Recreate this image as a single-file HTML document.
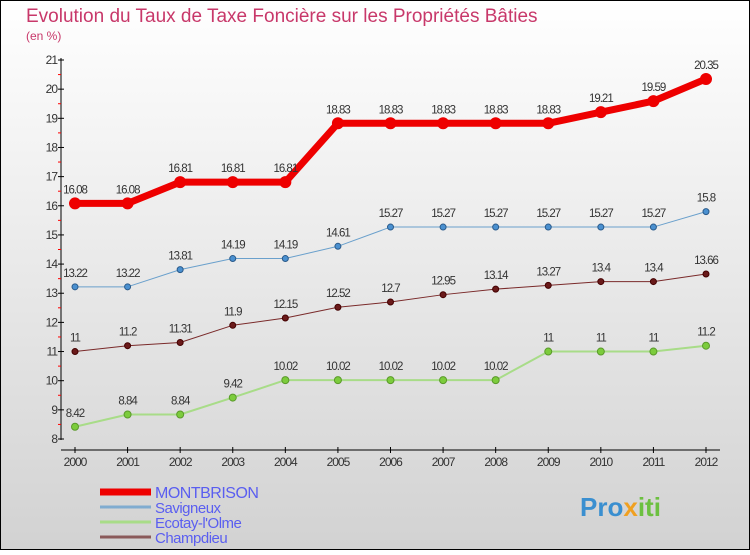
<!DOCTYPE html>
<html><head><meta charset="utf-8"><style>
body{margin:0}
#c{width:750px;height:550px;position:relative;font-family:"Liberation Sans",sans-serif}
</style></head><body>
<div id="c">
<svg id="s" width="750" height="550" xmlns="http://www.w3.org/2000/svg">
<defs><linearGradient id="bg" x1="0" y1="0" x2="0" y2="1"><stop offset="0" stop-color="#ffffff"/><stop offset="1" stop-color="#d2d2d2"/></linearGradient></defs>
<rect x="0.5" y="0.5" width="749" height="549" fill="url(#bg)" stroke="#000"/>
<text x="26" y="22" font-size="19" fill="#c8386a">Evolution du Taux de Taxe Foncière sur les Propriétés Bâties</text>
<text x="26" y="40" font-size="12" fill="#c8386a">(en %)</text>
<g id="axes"></g><g id="series"></g><g id="legend"></g>
<text x="580" y="516" font-size="26" font-weight="bold" fill="#3a8fd0">Pro<tspan fill="#f0a020">x</tspan><tspan fill="#6cc040">iti</tspan></text>
</svg>
</div>
<script>
const years=[2000,2001,2002,2003,2004,2005,2006,2007,2008,2009,2010,2011,2012];
const montbrison=[16.08,16.08,16.81,16.81,16.81,18.83,18.83,18.83,18.83,18.83,19.21,19.59,20.35];
const savigneux=[13.22,13.22,13.81,14.19,14.19,14.61,15.27,15.27,15.27,15.27,15.27,15.27,15.8];
const ecotay=[8.42,8.84,8.84,9.42,10.02,10.02,10.02,10.02,10.02,11,11,11,11.2];
const champdieu=[11,11.2,11.31,11.9,12.15,12.52,12.7,12.95,13.14,13.27,13.4,13.4,13.66];
const yTicks=[8,9,10,11,12,13,14,15,16,17,18,19,20,21];
const seriesNames=["MONTBRISON","Savigneux","Ecotay-l'Olme","Champdieu"];
const NS="http://www.w3.org/2000/svg";
function X(i){return 75+i*(706-75)/12;}
function Y(v){return 439-(v-8)*(439-60)/13;}
function mk(t,a,p){const e=document.createElementNS(NS,t);for(const k in a)e.setAttribute(k,a[k]);p.appendChild(e);return e;}
const ax=document.getElementById('axes');
let l=mk('line',{x1:61,y1:58,x2:61,y2:440,stroke:'#000'},ax);

l=mk('line',{x1:61,y1:450,x2:720,y2:450,stroke:'#000'},ax);

yTicks.forEach(v=>{
 mk('line',{x1:58,x2:64,y1:Y(v),y2:Y(v),stroke:'#000'},ax);
 if(v<21)mk('line',{x1:58,x2:61,y1:Y(v+0.5),y2:Y(v+0.5),stroke:'#f00'},ax);
 const t=mk('text',{x:57,y:Y(v)+4,'font-size':12,'text-anchor':'end',fill:'#333','letter-spacing':'-1'},ax);t.textContent=v;
 
});
years.forEach((y,i)=>{
 mk('line',{x1:X(i),x2:X(i),y1:447,y2:453,stroke:'#000'},ax);
 const t=mk('text',{x:X(i),y:466,'font-size':12,'text-anchor':'middle',fill:'#333','letter-spacing':'-1'},ax);t.textContent=y;
 
});
const sg=document.getElementById('series');
function draw(data,name,color,w,dot,dotStroke,r){
 const g=mk('g',{},sg);
 
 mk('polyline',{points:data.map((v,i)=>X(i)+','+Y(v)).join(' '),fill:'none',stroke:color,'stroke-width':w,'stroke-linejoin':'round'},g);
 data.forEach((v,i)=>{
  const c=mk('circle',{cx:X(i),cy:Y(v),r:r,fill:dot,stroke:dotStroke,'stroke-width':1},g);
  
  const t=mk('text',{x:X(i),y:Y(v)-10,'font-size':11.5,'text-anchor':'middle',fill:'#333','letter-spacing':'-1'},g);t.textContent=v;
  
 });
}
draw(ecotay,'series-ecotay','#a8dc88',2,'#7ccc3c','#5a9a2a',3.5);
draw(champdieu,'series-champdieu','#7a2a2a',1,'#6a1a1a','#400',3);
draw(savigneux,'series-savigneux','#6aa0cc',1,'#4a90d0','#2a5a8a',3);
draw(montbrison,'series-montbrison','#ee0000',7,'#ee0000','#ee0000',5.5);
const lg=document.getElementById('legend');
const lc=['#ee0000','#80acd0','#a8dc88','#8a5a5a'],lw=[7,3,3,3],ly=[492,507,522,537];
seriesNames.forEach((n,i)=>{
 const g=mk('g',{},lg);
 
 mk('line',{x1:100,x2:151,y1:ly[i],y2:ly[i],stroke:lc[i],'stroke-width':lw[i]},g);
 const t=mk('text',{x:155,y:ly[i]+6,'font-size':i==0?16:15,fill:'#5a5ef0','letter-spacing':'-0.5'},g);t.textContent=n;
});
</script>
</body></html>
